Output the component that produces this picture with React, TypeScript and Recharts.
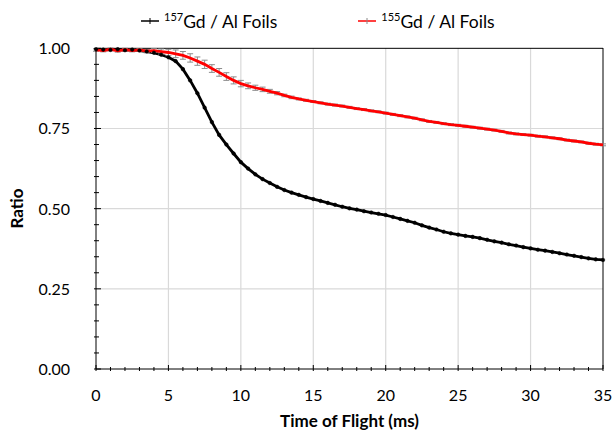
import React from "react";
import {
  LineChart,
  Line,
  XAxis,
  YAxis,
  ReferenceLine,
  ErrorBar,
} from "recharts";

// time of flight (ms), every 0.5 ms
const times = [
  0, 0.5, 1, 1.5, 2, 2.5, 3, 3.5, 4, 4.5, 5, 5.5, 6, 6.5, 7, 7.5, 8, 8.5, 9, 9.5,
  10, 10.5, 11, 11.5, 12, 12.5, 13, 13.5, 14, 14.5, 15, 15.5, 16, 16.5, 17, 17.5,
  18, 18.5, 19, 19.5, 20, 20.5, 21, 21.5, 22, 22.5, 23, 23.5, 24, 24.5, 25, 25.5,
  26, 26.5, 27, 27.5, 28, 28.5, 29, 29.5, 30, 30.5, 31, 31.5, 32, 32.5, 33, 33.5,
  34, 34.5, 35,
];

// 157Gd / Al foils
const gd157 = [
  0.997, 0.996, 0.995, 0.997, 0.994, 0.996, 0.993, 0.99, 0.986, 0.98, 0.972, 0.96,
  0.935, 0.9, 0.86, 0.815, 0.77, 0.73, 0.7, 0.672, 0.645, 0.625, 0.607, 0.592,
  0.58, 0.568, 0.558, 0.55, 0.543, 0.536, 0.53, 0.524, 0.518, 0.512, 0.506, 0.501,
  0.497, 0.492, 0.488, 0.484, 0.48, 0.474, 0.468, 0.462, 0.456, 0.448, 0.441,
  0.435, 0.428, 0.423, 0.419, 0.415, 0.412, 0.408, 0.403, 0.398, 0.394, 0.389,
  0.385, 0.38, 0.376, 0.372, 0.369, 0.365, 0.361, 0.357, 0.353, 0.349, 0.345,
  0.342, 0.34,
];

// 155Gd / Al foils
const gd155 = [
  0.995, 0.993, 0.997, 0.992, 0.996, 0.993, 0.995, 0.991, 0.993, 0.99, 0.987,
  0.983, 0.978, 0.97, 0.96, 0.95, 0.937, 0.925, 0.912, 0.9, 0.89, 0.883, 0.877,
  0.872, 0.866, 0.86, 0.853, 0.847, 0.842, 0.838, 0.834, 0.83, 0.826, 0.823, 0.82,
  0.816, 0.812, 0.809, 0.805, 0.802, 0.798, 0.794, 0.79, 0.786, 0.782, 0.777,
  0.772, 0.769, 0.765, 0.762, 0.76, 0.757, 0.754, 0.751, 0.748, 0.745, 0.741,
  0.736, 0.733, 0.731, 0.729, 0.726, 0.724, 0.721, 0.718, 0.714, 0.711, 0.708,
  0.704, 0.701, 0.699,
];

// uncertainty on the 155Gd ratio
const gd155Err = [
  0.004, 0.004, 0.004, 0.004, 0.004, 0.004, 0.004, 0.005, 0.006, 0.008, 0.01,
  0.012, 0.012, 0.013, 0.013, 0.013, 0.012, 0.012, 0.012, 0.011, 0.01, 0.009,
  0.008, 0.007, 0.006, 0.005, 0.004, 0.004, 0.003, 0.003, 0.003, 0.003, 0.003,
  0.003, 0.003, 0.003, 0.003, 0.003, 0.003, 0.003, 0.003, 0.003, 0.003, 0.003,
  0.003, 0.003, 0.003, 0.003, 0.003, 0.003, 0.003, 0.003, 0.003, 0.003, 0.003,
  0.003, 0.003, 0.003, 0.003, 0.003, 0.003, 0.003, 0.003, 0.003, 0.003, 0.003,
  0.003, 0.003, 0.003, 0.003, 0.003,
];

const xTicks = Array.from({ length: 36 }, (_, i) => i);
const yTicks = Array.from({ length: 21 }, (_, i) => +(i * 0.05).toFixed(2));
const xMajor = [5, 10, 15, 20, 25, 30];
const yMajor = [0.25, 0.5, 0.75];

const data = times.map((t, i) => ({
  t,
  gd157: gd157[i],
  gd155: gd155[i],
  gd155Err: gd155Err[i],
}));

const FONT = "Lato, 'Open Sans', sans-serif";

const XTick = ({ x, y, payload }: any) => {
  const major = payload.value % 5 === 0;
  return (
    <g>
      <line x1={x} x2={x} y1={y} y2={y - (major ? 6 : 4)} stroke="#000" />
      {major && (
        <text x={x} y={y + 30} textAnchor="middle" fontSize={16} fill="#000" fontFamily={FONT}>
          {payload.value}
        </text>
      )}
    </g>
  );
};

const YTick = ({ x, y, payload }: any) => {
  const v = Math.round(payload.value * 100);
  const major = v % 25 === 0;
  return (
    <g>
      <line x1={x} x2={x + (major ? 7 : 5)} y1={y} y2={y} stroke="#000" />
      {major && (
        <text x={x - 24} y={y + 6} textAnchor="end" fontSize={16} fill="#000" fontFamily={FONT}>
          {(v / 100).toFixed(2)}
        </text>
      )}
    </g>
  );
};

const Marker = ({ color }: { color: string }) => (
  <svg width={20} height={10} style={{ marginRight: 4 }}>
    <line x1={1} x2={19} y1={5} y2={5} stroke={color} strokeWidth={1.5} />
    <line x1={10} x2={10} y1={2} y2={8} stroke={color === "#000" ? "#000" : "#888"} strokeWidth={1} />
  </svg>
);

const LegendContent = () => (
  <div
    style={{
      position: "absolute",
      top: 10,
      left: 140,
      display: "flex",
      fontFamily: FONT,
      fontSize: 17.5,
      color: "#000",
    }}
  >
    <div style={{ display: "flex", alignItems: "center", marginRight: 80 }}>
      <Marker color="#000" />
      <span>
        <sup style={{ fontSize: 11 }}>157</sup>Gd / Al Foils
      </span>
    </div>
    <div style={{ display: "flex", alignItems: "center" }}>
      <Marker color="#ff0000" />
      <span>
        <sup style={{ fontSize: 11 }}>155</sup>Gd / Al Foils
      </span>
    </div>
  </div>
);

export default function App() {
  return (
    <div style={{ position: "relative", width: 614, height: 432, background: "#fff" }}>
      <style>{`body{margin:0}`}</style>
      <LegendContent />
      <LineChart width={614} height={432} data={data} margin={{ top: 48, right: 11, bottom: 0, left: 0 }}>
        {xMajor.map((v) => (
          <ReferenceLine key={`gx${v}`} x={v} stroke="#d9d9d9" strokeWidth={1.2} />
        ))}
        {yMajor.map((v) => (
          <ReferenceLine key={`gy${v}`} y={v} stroke="#d9d9d9" strokeWidth={1.2} />
        ))}
        <ReferenceLine y={1} stroke="#000" />
        <ReferenceLine x={35} stroke="#000" />
        <XAxis
          dataKey="t"
          type="number"
          domain={[0, 35]}
          ticks={xTicks}
          interval={0}
          height={63}
          tickSize={0}
          tickLine={false}
          axisLine={{ stroke: "#000" }}
          tick={<XTick />}
          label={{
            value: "Time of Flight (ms)",
            position: "insideBottom",
            offset: 5,
            style: { fontFamily: FONT, fontWeight: 700, fontSize: 17, fill: "#000" },
          }}
        />
        <YAxis
          type="number"
          domain={[0, 1]}
          ticks={yTicks}
          interval={0}
          width={96}
          tickSize={0}
          tickLine={false}
          axisLine={{ stroke: "#000" }}
          tick={<YTick />}
          label={{
            value: "Ratio",
            angle: -90,
            position: "insideLeft",
            offset: 17,
            style: { fontFamily: FONT, fontWeight: 700, fontSize: 17, fill: "#000", textAnchor: "middle" },
          }}
        />
        <Line
          dataKey="gd157"
          stroke="#000"
          strokeWidth={2.8}
          dot={{ r: 1.8, fill: "#000", stroke: "#000", strokeWidth: 0.5 }}
          isAnimationActive={false}
        />
        <Line
          dataKey="gd155"
          stroke="#ff0000"
          strokeWidth={2.8}
          dot={false}
          isAnimationActive={false}
        >
          <ErrorBar dataKey="gd155Err" width={3} stroke="#8c8c8c" strokeWidth={1} direction="y" />
        </Line>
      </LineChart>
    </div>
  );
}
